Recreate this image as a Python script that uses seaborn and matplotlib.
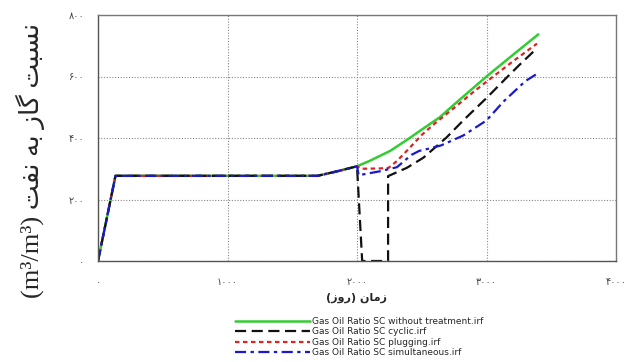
import matplotlib
matplotlib.use("Agg")
import matplotlib.pyplot as plt
import seaborn as sns
import pandas as pd

sns.set_theme(style="white")
plt.rcParams['font.family'] = ['DejaVu Sans']

# ---- data ----
common_x = [0, 135, 1000, 1695, 1850, 2000]
common_y = [0, 277, 277, 277, 292, 308]

green_x = common_x + [2100, 2256, 2400, 2530, 2641, 2750, 3000, 3200, 3400]
green_y = common_y + [326, 358, 398, 436, 468, 509, 600, 669, 737]

black_x = common_x + [2040, 2240, 2240, 2385, 2513, 2692, 2820, 3000, 3150, 3250, 3390]
black_y = common_y + [0, 0, 276, 303, 336, 402, 457, 530, 594, 636, 692]

red_x = common_x + [2030, 2180, 2244, 2308, 2400, 2500, 2600, 2750, 2900, 3000, 3200, 3390]
red_y = common_y + [300, 301, 303, 325, 365, 410, 447, 498, 550, 583, 648, 707]

blue_x = common_x + [2013, 2180, 2308, 2420, 2480, 2550, 2650, 2820, 3000, 3130, 3300, 3410]
blue_y = common_y + [279, 292, 305, 345, 358, 365, 376, 408, 457, 518, 585, 614]

series_names = [
    "Gas Oil Ratio SC without treatment.irf",
    "Gas Oil Ratio SC cyclic.irf",
    "Gas Oil Ratio SC plugging.irf",
    "Gas Oil Ratio SC simultaneous.irf",
]
x_ticks = [0, 1000, 2000, 3000, 4000]
x_tick_labels = ["۰", "۱۰۰۰", "۲۰۰۰", "۳۰۰۰", "۴۰۰۰"]
y_ticks = [0, 200, 400, 600, 800]
y_tick_labels = ["۰", "۲۰۰", "۴۰۰", "۶۰۰", "۸۰۰"]

# Persian labels written in visual (shaped, left-to-right) order
ylabel_fa = "\uFE96\uFED4\uFEE7 \uFEEA\uFE91 \uFEAF\uFE8E\uFB94 \uFE96\uFE92\uFEB4\uFEE7"
xlabel_fa = "(\uFEAF\uFEED\uFEAD) \uFEE5\uFE8E\uFEE3\uFEAF"

fig = plt.figure(figsize=(6.28, 3.62), dpi=100)
ax = fig.add_axes([98/628, 1-261/362, (616-98)/628, (261-15)/362])

styles = [
    dict(color="#33cc33", linestyle="-", linewidth=1.8),
    dict(color="#111111", linestyle=(0, (5, 2.5)), linewidth=1.6),
    dict(color="#dd2222", linestyle=(0, (2, 1.6)), linewidth=1.6),
    dict(color="#1a1acc", linestyle=(0, (5, 2, 1.5, 2)), linewidth=1.6),
]
data = [(green_x, green_y), (black_x, black_y), (red_x, red_y), (blue_x, blue_y)]
order = [0, 2, 1, 3]
for i in order:
    xs, ys = data[i]
    df = pd.DataFrame({"x": xs, "y": ys})
    sns.lineplot(data=df, x="x", y="y", ax=ax, sort=False, estimator=None,
                 label=series_names[i], **styles[i])

ax.set_xlim(0, 4000)
ax.set_ylim(0, 800)
ax.set_xticks(x_ticks)
ax.set_xticklabels(x_tick_labels)
ax.set_yticks(y_ticks)
ax.set_yticklabels(y_tick_labels)
ax.tick_params(axis="both", length=3, width=0.8, color="#555555",
               labelsize=7, labelcolor="#444444", direction="out")
ax.tick_params(axis="x", pad=8.5)
ax.tick_params(axis="y", pad=7)
ax.grid(True, linestyle=(0, (1, 1.5)), color="#888888", linewidth=0.8)
for s in ["left", "bottom"]:
    ax.spines[s].set_color("#555555")
    ax.spines[s].set_linewidth(1.0)
for s in ["top", "right"]:
    ax.spines[s].set_color("#777777")
    ax.spines[s].set_linewidth(1.0)
ax.set_xlabel("")
ax.set_ylabel("")

fig.text(357/628, 1-298/362, xlabel_fa, ha="center", va="center",
         fontsize=8, fontweight="bold", family=["DejaVu Sans"])
fig.text(30/628, 1-160/362, "(m\u00b3/m\u00b3) " + ylabel_fa, rotation=90,
         ha="center", va="center", fontsize=19,
         family=["Liberation Serif", "DejaVu Sans"])

h, l = ax.get_legend_handles_labels()
lab_to_h = dict(zip(l, h))
ax.legend([lab_to_h[n] for n in series_names], series_names,
          loc="upper left", bbox_to_anchor=(235/628, 1-317/362),
          bbox_transform=fig.transFigure, frameon=False, fontsize=6.5,
          handlelength=8.3, handletextpad=0.25, labelspacing=0.15,
          borderpad=0, borderaxespad=0)

fig.savefig("out.png", dpi=100)
